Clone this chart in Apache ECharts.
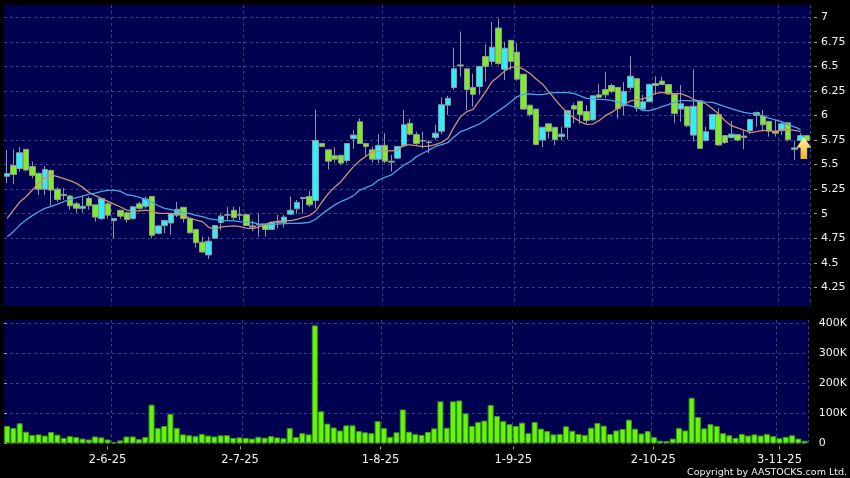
<!DOCTYPE html>
<html>
<head>
<meta charset="utf-8">
<style>html,body{margin:0;padding:0;background:#000}#c{width:850px;height:478px}</style>
<script src="https://cdn.jsdelivr.net/npm/echarts@6/dist/echarts.min.js"></script>
</head>
<body>
<div id="c"></div>
<script>
const opens = [
5.38,5.49,5.46,5.655,5.48,5.41,5.25,5.44,5.25,5.195,
5.18,5.10,5.055,5.155,5.09,4.95,5.10,4.93,5.035,5.01,
4.95,5.10,5.075,5.175,4.80,4.88,4.905,4.985,5.065,4.95,
4.84,4.71,4.58,4.75,4.91,4.99,5.035,4.99,4.99,4.875,
4.89,4.895,4.84,4.92,4.91,4.995,5.05,5.165,5.175,5.135,
5.715,5.65,5.59,5.595,5.54,5.765,5.935,5.715,5.65,5.555,
5.695,5.535,5.565,5.69,5.92,5.805,5.745,5.73,5.775,5.84,
6.105,6.285,6.515,6.475,6.285,6.295,6.60,6.55,6.89,6.47,
6.765,6.645,6.42,6.105,6.065,5.75,5.915,5.88,5.785,5.88,
6.10,6.145,6.04,5.955,6.21,6.265,6.305,6.285,6.10,6.285,
6.375,6.065,6.14,6.305,6.35,6.315,6.215,6.065,6.09,5.80,
6.15,5.745,5.86,6.01,5.795,5.775,5.805,5.79,5.845,6.03,
5.995,5.94,5.84,5.845,5.925,5.655,5.745,5.795];
const closes = [
5.41,5.40,5.62,5.445,5.39,5.25,5.45,5.24,5.145,5.185,
5.08,5.055,5.075,5.08,4.965,5.155,4.985,4.95,4.975,4.94,
5.07,5.055,5.15,4.78,4.875,4.93,5.00,5.045,4.95,4.805,
4.705,4.61,4.72,4.88,4.975,4.985,4.96,4.985,4.88,4.865,
4.885,4.84,4.91,4.91,4.965,5.035,5.115,5.155,5.09,5.745,
5.685,5.535,5.555,5.515,5.715,5.80,5.715,5.685,5.555,5.695,
5.535,5.525,5.685,5.905,5.81,5.715,5.74,5.725,5.82,6.11,
6.175,6.475,6.505,6.265,6.215,6.50,6.50,6.695,6.53,6.685,
6.55,6.37,6.065,6.01,5.705,5.88,5.84,5.755,5.81,6.05,
6.065,6.01,5.95,6.20,6.185,6.21,6.245,6.07,6.245,6.40,
6.075,6.14,6.315,6.325,6.315,6.22,6.02,6.12,5.895,6.095,
5.665,5.835,6.01,5.70,5.725,5.81,5.75,5.775,5.96,6.00,
5.905,5.84,5.82,5.915,5.755,5.67,5.795,5.745];
const lows = [
5.31,5.30,5.43,5.43,5.36,5.19,5.19,5.08,5.12,5.14,
5.04,5.01,5.01,5.04,4.92,4.935,4.95,4.75,4.95,4.91,
4.94,5.04,5.055,4.75,4.79,4.80,4.785,4.965,4.91,4.80,
4.655,4.605,4.54,4.75,4.83,4.93,4.935,4.935,4.875,4.82,
4.765,4.765,4.835,4.85,4.86,4.985,5.00,5.00,5.07,5.055,
5.68,5.45,5.52,5.495,5.515,5.66,5.715,5.59,5.52,5.515,
5.515,5.43,5.555,5.675,5.80,5.70,5.665,5.615,5.75,5.81,
6.005,6.26,6.395,6.055,6.09,6.21,6.345,6.515,6.515,6.36,
6.465,6.355,6.06,5.99,5.70,5.68,5.765,5.70,5.745,5.755,
5.92,5.915,5.92,5.95,6.18,6.175,6.225,5.97,6.005,6.26,
6.04,6.055,6.135,6.21,6.31,6.21,5.925,5.935,5.88,5.735,
5.66,5.735,5.85,5.69,5.71,5.765,5.735,5.655,5.81,5.885,
5.835,5.785,5.785,5.80,5.735,5.545,5.735,5.74];
const highs = [
5.65,5.655,5.675,5.655,5.53,5.42,5.485,5.45,5.27,5.26,
5.19,5.12,5.19,5.175,5.09,5.155,5.12,4.95,5.035,5.02,
5.08,5.12,5.175,5.18,4.885,4.94,5.00,5.12,5.07,4.95,
4.84,4.765,4.765,4.88,5.00,5.07,5.07,5.07,4.99,4.93,
5.00,4.895,4.92,4.99,4.99,5.175,5.14,5.165,5.235,6.06,
5.715,5.65,5.675,5.595,5.715,5.85,5.97,5.715,5.685,5.81,
5.82,5.60,5.69,6.055,5.965,5.835,5.835,5.745,5.905,6.185,
6.20,6.69,6.855,6.475,6.425,6.50,6.725,6.955,6.99,6.75,
6.765,6.735,6.42,6.105,6.065,5.88,5.915,5.88,5.885,6.05,
6.125,6.145,6.105,6.20,6.32,6.445,6.325,6.285,6.34,6.605,
6.375,6.21,6.325,6.40,6.395,6.315,6.215,6.31,6.09,6.47,
6.155,5.885,6.01,6.075,5.795,5.945,5.805,5.85,5.96,6.04,
6.055,5.94,5.96,5.935,5.925,5.745,5.82,5.795];
const maShort = [
4.952,5.037,5.119,5.173,5.241,5.309,5.36,5.394,5.377,5.356,
5.336,5.309,5.268,5.217,5.183,5.156,5.125,5.098,5.068,5.037,
5.027,5.03,5.037,5.027,5.003,5.003,5.003,5.0,4.983,4.956,
4.935,4.919,4.861,4.844,4.865,4.871,4.875,4.868,4.854,4.848,
4.865,4.888,4.915,4.922,4.929,4.929,4.943,4.963,4.98,5.027,
5.119,5.204,5.269,5.326,5.404,5.479,5.54,5.584,5.628,5.635,
5.639,5.639,5.645,5.7,5.7,5.693,5.682,5.689,5.703,5.727,
5.767,5.886,5.988,6.039,6.063,6.151,6.243,6.344,6.395,6.453,
6.49,6.497,6.47,6.429,6.372,6.321,6.243,6.165,6.09,6.022,
5.978,5.937,5.91,5.913,5.947,5.998,6.032,6.073,6.114,6.148,
6.158,6.168,6.192,6.226,6.236,6.229,6.222,6.222,6.198,6.165,
6.144,6.117,6.069,6.015,5.947,5.896,5.873,5.852,5.825,5.835,
5.849,5.849,5.835,5.859,5.859,5.849,5.839,null];
const maLong = [
4.766,4.817,4.884,4.935,4.98,5.02,5.054,5.075,5.098,5.122,
5.146,5.163,5.18,5.2,5.21,5.227,5.237,5.237,5.227,5.193,
5.183,5.166,5.146,5.115,5.081,5.054,5.041,5.027,5.013,5.0,
4.983,4.97,4.949,4.939,4.932,4.929,4.926,4.919,4.915,4.909,
4.895,4.892,4.892,4.895,4.898,4.902,4.902,4.905,4.912,4.943,
4.997,5.044,5.089,5.122,5.15,5.184,5.241,5.265,5.292,5.343,
5.37,5.394,5.445,5.496,5.53,5.581,5.615,5.649,5.682,5.703,
5.723,5.784,5.835,5.859,5.886,5.913,5.954,6.002,6.046,6.09,
6.141,6.192,6.216,6.219,6.212,6.212,6.226,6.232,6.232,6.232,
6.226,6.199,6.175,6.168,6.165,6.161,6.154,6.137,6.114,6.097,
6.083,6.049,6.049,6.066,6.09,6.11,6.137,6.151,6.151,6.148,
6.141,6.137,6.134,6.114,6.09,6.069,6.049,6.032,6.022,6.015,
5.995,5.974,5.954,5.937,5.91,5.883,5.859,null];
const volumesK = [
58,51,67,39,28,30,26,38,29,18,
24,21,16,13,23,20,13,4,10,23,
23,14,21,129,51,58,98,51,30,27,
24,31,26,23,27,27,18,20,18,16,
22,19,24,20,17,51,21,34,30,393,
107,66,53,43,60,60,41,37,34,74,
51,22,37,113,39,31,28,38,50,140,
52,140,143,100,58,71,76,128,91,74,
64,58,69,34,71,49,41,30,31,57,
42,31,28,52,68,59,31,43,48,79,
49,33,41,21,9,8,16,51,43,152,
88,50,64,58,34,27,18,31,26,30,
26,31,24,17,22,27,16,9];
const priceTicks = [4.25,4.5,4.75,5,5.25,5.5,5.75,6,6.25,6.5,6.75,7];
const volumeTicks = [0,100000,200000,300000,400000];
const dateLabels = ['2-6-25','2-7-25','1-8-25','1-9-25','2-10-25','3-11-25'];
const dateLabelPositions = [16.5,37.6,59.96,81.1,103.4,123.5];
const monthStartIndices = [17,38,60,81,103,123];
const latestArrow = [127,5.668];

const categories = opens.map((_, i) => String(i));
const gridLine = {show:true,lineStyle:{color:'#3e3e84',width:1,type:[3,3]}};
const splitX = Object.assign({}, gridLine, {interval:(i) => monthStartIndices.includes(i)});
const tickStyle = {lineStyle:{color:'#9a9a9a',width:1},length:3};
const labelStyle = {color:'#f2f2f2',fontFamily:'DejaVu Sans',fontSize:11};

const chart = echarts.init(document.getElementById('c'), null, {renderer:'canvas'});
chart.setOption({
  animation:false,
  backgroundColor:'#000',
  grid:[
    {left:4,right:40,top:5,height:301,show:true,backgroundColor:'#000050',borderWidth:0},
    {left:4,right:40,top:320,height:123.4,show:true,backgroundColor:'#000050',borderWidth:0}
  ],
  xAxis:[
    {type:'category',gridIndex:0,data:categories,position:'bottom',axisLine:{show:false},axisTick:{show:false},axisLabel:{show:false},splitLine:splitX},
    {type:'category',gridIndex:1,data:categories,position:'bottom',axisLine:{show:false},axisTick:{show:false},axisLabel:{show:false},splitLine:splitX},
    {type:'value',gridIndex:1,min:0,max:categories.length,position:'bottom',offset:3,
     axisLine:{show:false,onZero:false},splitLine:{show:false},
     axisTick:Object.assign({customValues:dateLabelPositions},tickStyle),
     axisLabel:Object.assign({customValues:dateLabelPositions,margin:8,showMinLabel:true,showMaxLabel:true,
       formatter:(v)=>dateLabels[dateLabelPositions.indexOf(v)]||''},labelStyle,{fontSize:11.5})}
  ],
  yAxis:[
    {type:'value',gridIndex:0,position:'right',min:4.06,max:7.125,offset:4,scale:true,
     axisLine:{show:false},
     axisTick:Object.assign({show:true,customValues:priceTicks},tickStyle),
     axisLabel:Object.assign({customValues:priceTicks,margin:7,padding:[2,0,0,0]},labelStyle),
     splitLine:Object.assign({},gridLine,{customValues:priceTicks})},
    {type:'value',gridIndex:1,position:'right',min:0,max:411000,offset:4,
     axisLine:{show:false},
     axisTick:Object.assign({show:true,customValues:volumeTicks},tickStyle),
     axisLabel:Object.assign({customValues:volumeTicks,margin:7,padding:[4,0,0,0],formatter:(v)=>v===0?'0':(v/1000)+'K'},labelStyle),
     splitLine:Object.assign({},gridLine,{customValues:volumeTicks})}
  ],
  series:[
    {type:'candlestick',xAxisIndex:0,yAxisIndex:0,barWidth:6,
     data:opens.map((o,i)=>[o,closes[i],lows[i],highs[i]]),
     itemStyle:{color:'#30eef8',color0:'#80ec28',borderColor:'#8f9a9a',borderColor0:'#8f9a9a',borderWidth:1},
     markPoint:{symbol:'path://M50 0 L100 48 L72 48 L72 100 L28 100 L28 48 L0 48 Z',symbolSize:[15,22],symbolOffset:[-3,0],
       silent:true,label:{show:false},
       itemStyle:{color:{type:'linear',x:0,y:0,x2:0,y2:1,colorStops:[{offset:0,color:'#fff2a0'},{offset:1,color:'#f0b020'}]}},
       data:[{coord:latestArrow}]}},
    {type:'line',xAxisIndex:0,yAxisIndex:0,data:maShort,symbol:'none',lineStyle:{color:'#d09070',width:1.3},z:4},
    {type:'line',xAxisIndex:0,yAxisIndex:0,data:maLong,symbol:'none',lineStyle:{color:'#45a8e6',width:1.3},z:4},
    {type:'bar',xAxisIndex:1,yAxisIndex:1,barWidth:6,data:volumesK.map(v=>v*1000),
     itemStyle:{color:'#66f510',borderColor:'#3d9a14',borderWidth:1}}
  ],
  graphic:[{type:'text',right:3,top:468,style:{text:'Copyright by AASTOCKS.com Ltd.',fill:'#f2f2f2',font:'9.5px "DejaVu Sans"'}}]
});
</script>
</body>
</html>
